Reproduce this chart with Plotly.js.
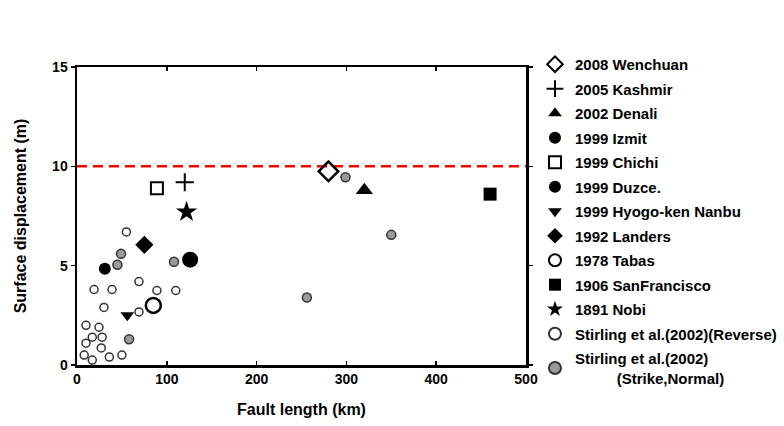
<!DOCTYPE html>
<html>
<head>
<meta charset="utf-8">
<script src="https://cdn.plot.ly/plotly-3.0.1.min.js"></script>
<style>body{margin:0;background:#fff;} #chart{width:784px;height:426px;}</style>
</head>
<body>
<div id="chart"></div>
<script>
// Named earthquakes (fault length km, surface displacement m)
const eqNames = ["2008 Wenchuan","2005 Kashmir","2002 Denali","1999 Izmit","1999 Chichi","1999 Duzce.","1999 Hyogo-ken Nanbu","1992 Landers","1978 Tabas","1906 SanFrancisco","1891 Nobi"];
const eqLength = [280, 120, 320, 126, 89, 31, 56, 75, 85, 460, 122];
const eqDisp   = [9.75, 9.2, 8.8, 5.3, 8.9, 4.85, 2.5, 6.05, 3.0, 8.6, 7.7];

// Stirling et al. (2002) reverse
const revLength = [55, 69, 89, 110, 19, 39, 30, 69, 10, 24.5, 17, 28, 10, 27, 8, 50, 36, 17];
const revDisp   = [6.7, 4.2, 3.75, 3.75, 3.8, 3.8, 2.9, 2.67, 2.0, 1.9, 1.4, 1.4, 1.1, 0.86, 0.5, 0.5, 0.4, 0.25];

// Stirling et al. (2002) strike-slip, normal
const ssLength = [49, 45, 108, 58, 256, 350, 299];
const ssDisp   = [5.6, 5.05, 5.2, 1.3, 3.4, 6.55, 9.45];

const xTicks = [0, 100, 200, 300, 400, 500];
const yTicks = [0, 5, 10, 15];
const limitDisp = 10;

const symbols = ["diamond-open","cross-thin-open","triangle-up","circle","square-open","circle","triangle-down","diamond","circle-open","square","star"];
const sizes   = [15, 13, 15, 16, 12, 12, 12, 14, 15, 13, 16];
const lineW   = [2.5, 2, 0, 0, 2, 0, 0, 0, 2.5, 0, 0];

const traces = [];
eqNames.forEach((n, i) => {
  traces.push({
    type: "scatter", mode: "markers", name: n, legendgroup: "g" + i,
    x: [eqLength[i]], y: [eqDisp[i]],
    marker: { symbol: symbols[i], size: sizes[i], color: "#000",
              line: { color: "#000", width: lineW[i] } },
    cliponaxis: false
  });
});
traces.push({
  type: "scatter", mode: "markers", name: "Stirling et al.(2002)(Reverse)", legendgroup: "rev",
  x: revLength, y: revDisp,
  marker: { symbol: "circle-open", size: 8, color: "#333", line: { color: "#333", width: 1.5 } }
});
traces.push({
  type: "scatter", mode: "markers", name: "Stirling et al.(2002)<br>\u00a0\u00a0\u00a0\u00a0\u00a0\u00a0\u00a0\u00a0\u00a0\u00a0(Strike,Normal)", legendgroup: "ss",
  x: ssLength, y: ssDisp,
  marker: { symbol: "circle", size: 9, color: "#9a9a9a", line: { color: "#333", width: 1.5 } }
});

const fontFam = "'Liberation Sans Narrow', 'Liberation Sans', Arial, sans-serif";
const layout = {
  width: 784, height: 426,
  margin: { l: 77, r: 258, t: 67, b: 61, autoexpand: false },
  paper_bgcolor: "#fff", plot_bgcolor: "#fff",
  font: { family: fontFam, size: 14, color: "#000", weight: "bold" },
  showlegend: true,
  legend: { x: 1.02, xanchor: "left", y: 1.064, yanchor: "top",
            font: { family: fontFam, size: 15, color: "#000", weight: "bold" },
            tracegroupgap: 2, bgcolor: "rgba(0,0,0,0)", itemsizing: "constant",
            maxheight: 420 },
  xaxis: {
    range: [0, 500], tickvals: xTicks, ticktext: xTicks.map(String),
    showgrid: false, zeroline: false, showline: true, linecolor: "#000", linewidth: 2.5,
    mirror: "ticks", ticks: "inside", ticklen: 4, tickwidth: 1.5, tickcolor: "#000",
    title: { text: "Fault length (km)", font: { size: 16, weight: "bold" }, standoff: 18 },
    tickfont: { size: 14 }
  },
  yaxis: {
    range: [0, 15], tickvals: yTicks, ticktext: yTicks.map(String),
    showgrid: false, zeroline: false, showline: true, linecolor: "#000", linewidth: 2.5,
    mirror: "ticks", ticks: "outside", ticklen: 4, tickwidth: 1.5, tickcolor: "#000",
    title: { text: "Surface displacement (m)", font: { size: 16, weight: "bold" }, standoff: 22 },
    tickfont: { size: 14 }
  },
  shapes: [{
    type: "line", xref: "x", yref: "y", x0: 0, x1: 500, y0: limitDisp, y1: limitDisp,
    line: { color: "#ff0000", width: 2.5, dash: "10px,6px" }, layer: "below"
  }]
};
Plotly.newPlot("chart", traces, layout, { displayModeBar: false, staticPlot: true });
</script>
</body>
</html>
